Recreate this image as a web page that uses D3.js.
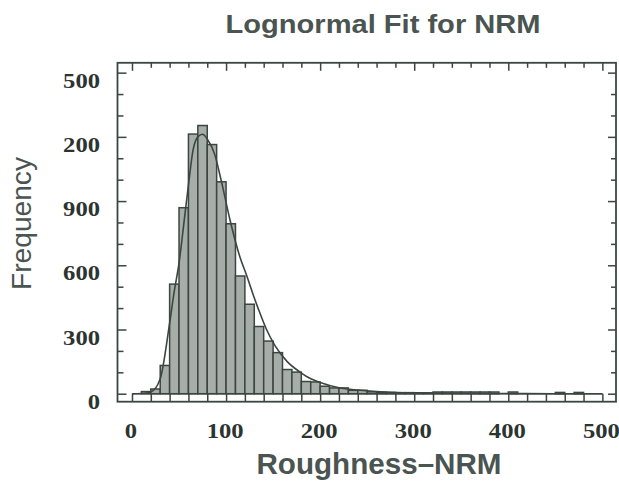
<!DOCTYPE html>
<html>
<head>
<meta charset="utf-8">
<script src="https://cdn.jsdelivr.net/npm/d3@7"></script>
<style>
  html, body { margin: 0; padding: 0; background: #ffffff; }
  svg { display: block; }
</style>
</head>
<body>
<svg id="chart" width="619" height="483"></svg>
<script>
// ---- data ----
const binStarts = [0,10,20,30,40,50,60,70,80,90,100,110,120,130,140,150,160,170,180,190,
                   200,210,220,230,240,250,260,270,280,290,300,310,320,330,340,350,360,370,380,390,
                   400,410,420,430,440,450,460,470,480,490];
const binCounts = [0,10,22,132,512,869,1213,1253,1164,990,794,550,418,314,246,192,113,101,57,55,
                   35,27,27,16,16,9,7,6,5,5,4,4,8,8,8,8,8,8,8,0,
                   8,0,0,0,0,6,0,6,0,0];
const binWidth = 10;
const fitX = [0,10,20,30,40,45,50,55,60,65,70,75,80,88,95,104,115,122,129,134,143,152,165,179,189,200,220,240,260,280,300,350,400,450,500];
const fitY = [0,1,8,70,330,480,610,790,975,1140,1200,1212,1190,1117,993,815,635,551,460,400,300,225,150,100,72,52,28,17,10,6,4,2,1,0,0];
const xTickMajor = [0,100,200,300,400,500];
const xTickMinor = [0,20,40,60,80,100,120,140,160,180,200,220,240,260,280,300,320,340,360,380,400,420,440,460,480,500];
const xTickLabels = ["0","100","200","300","400","500"];
const yTickMajor = [0,300,600,900,1200,1500];
const yTickMinor = [100,200,400,500,700,800,1000,1100,1300,1400];
const yTickLabels = ["0","300","600","900","200","500"];
const titleText = "Lognormal Fit for NRM";
const xLabelText = "Roughness\u2013NRM";
const yLabelText = "Frequency";

// ---- layout ----
const frame = {left: 117.5, right: 616, top: 62.8, bottom: 401.7};
const dark = "#3c4641";
const textCol = "#4a5450";
const labelCol = "#2c3430";

const x = d3.scaleLinear().domain([-15.4, 514.5]).range([frame.left, frame.right]);
const y = d3.scaleLinear().domain([-37.3, 1546]).range([frame.bottom, frame.top]);

const svg = d3.select("#chart");

// bars
const bins = binStarts.map((s, i) => ({x0: s, x1: s + binWidth, n: binCounts[i]}));
svg.append("g").selectAll("rect").data(bins.filter(d => d.n > 0)).join("rect")
  .attr("x", d => x(d.x0))
  .attr("width", d => x(d.x1) - x(d.x0))
  .attr("y", d => y(d.n))
  .attr("height", d => y(0) - y(d.n))
  .attr("fill", "#a7ada9")
  .attr("stroke", dark)
  .attr("stroke-width", 1.5);

// zero line of empty bins
svg.append("line")
  .attr("x1", x(binStarts[0])).attr("x2", x(binStarts[binStarts.length-1] + binWidth))
  .attr("y1", y(0)).attr("y2", y(0))
  .attr("stroke", dark).attr("stroke-width", 1.5);

// fit curve
const line = d3.line().x((d, i) => x(fitX[i])).y(d => y(d)).curve(d3.curveMonotoneX);
svg.append("path").attr("d", line(fitY))
  .attr("fill", "none").attr("stroke", dark).attr("stroke-width", 1.6);

// frame
svg.append("rect")
  .attr("x", frame.left).attr("y", frame.top)
  .attr("width", frame.right - frame.left).attr("height", frame.bottom - frame.top)
  .attr("fill", "none").attr("stroke", dark).attr("stroke-width", 1.8);

// axes (ticks inward)
function styleAxis(g) {
  g.select(".domain").remove();
  g.selectAll(".tick line").attr("stroke", dark).attr("stroke-width", 1.5);
}
// left
svg.append("g").attr("transform", `translate(${frame.left},0)`)
  .call(d3.axisLeft(y).tickValues(yTickMinor).tickSize(-6).tickFormat(""))
  .call(styleAxis);
const yAxisG = svg.append("g").attr("transform", `translate(${frame.left},0)`)
  .call(d3.axisLeft(y).tickValues(yTickMajor).tickSize(-9).tickPadding(17)
        .tickFormat((d, i) => yTickLabels[i]))
  .call(styleAxis);
// right
svg.append("g").attr("transform", `translate(${frame.right},0)`)
  .call(d3.axisRight(y).tickValues(yTickMinor).tickSize(-5).tickFormat(""))
  .call(styleAxis);
svg.append("g").attr("transform", `translate(${frame.right},0)`)
  .call(d3.axisRight(y).tickValues(yTickMajor).tickSize(-8).tickFormat(""))
  .call(styleAxis);
// top
svg.append("g").attr("transform", `translate(0,${frame.top})`)
  .call(d3.axisTop(x).tickValues(xTickMinor.filter(v => !xTickMajor.includes(v))).tickSize(-5).tickFormat(""))
  .call(styleAxis);
svg.append("g").attr("transform", `translate(0,${frame.top})`)
  .call(d3.axisTop(x).tickValues(xTickMajor).tickSize(-8).tickFormat(""))
  .call(styleAxis);
// bottom
const xAxisG = svg.append("g").attr("transform", `translate(0,${frame.bottom})`)
  .call(d3.axisBottom(x).tickValues(xTickMinor).tickSize(-8).tickFormat(""))
  .call(styleAxis);
const xLabG = svg.append("g").attr("transform", `translate(0,${frame.bottom})`)
  .call(d3.axisBottom(x).tickValues(xTickMajor).tickSize(0).tickPadding(0)
        .tickFormat((d, i) => xTickLabels[i]))
  .call(styleAxis);

function styleTickText(sel) {
  sel.attr("font-family", "'Liberation Serif', 'Times New Roman', serif")
     .attr("font-weight", "bold")
     .attr("font-size", 21)
     .attr("fill", labelCol)
     .attr("textLength", function() { return this.textContent.length * 12.3; })
     .attr("lengthAdjust", "spacingAndGlyphs");
}
yAxisG.selectAll(".tick text").call(styleTickText).attr("dy", "14.5").attr("x", 100 - frame.left);
xLabG.selectAll(".tick text").call(styleTickText).attr("dy", 0).attr("y", 36.5).attr("dx", -1.5);

// title
svg.append("text")
  .attr("x", 383).attr("y", 33.3)
  .attr("text-anchor", "middle")
  .attr("font-family", "'Liberation Sans', Arial, sans-serif")
  .attr("font-weight", "bold").attr("font-size", 25.5)
  .attr("fill", textCol)
  .attr("textLength", 315).attr("lengthAdjust", "spacingAndGlyphs")
  .text(titleText);

// x label
svg.append("text")
  .attr("x", 379).attr("y", 474)
  .attr("text-anchor", "middle")
  .attr("font-family", "'Liberation Sans', Arial, sans-serif")
  .attr("font-weight", "bold").attr("font-size", 29)
  .attr("fill", textCol)
  .attr("textLength", 245).attr("lengthAdjust", "spacingAndGlyphs")
  .text(xLabelText);

// y label
svg.append("text")
  .attr("transform", "translate(31,223.5) rotate(-90)")
  .attr("text-anchor", "middle")
  .attr("font-family", "'Liberation Sans', Arial, sans-serif")
  .attr("font-size", 28)
  .attr("fill", textCol)
  .attr("textLength", 133).attr("lengthAdjust", "spacingAndGlyphs")
  .text(yLabelText);
</script>
</body>
</html>
